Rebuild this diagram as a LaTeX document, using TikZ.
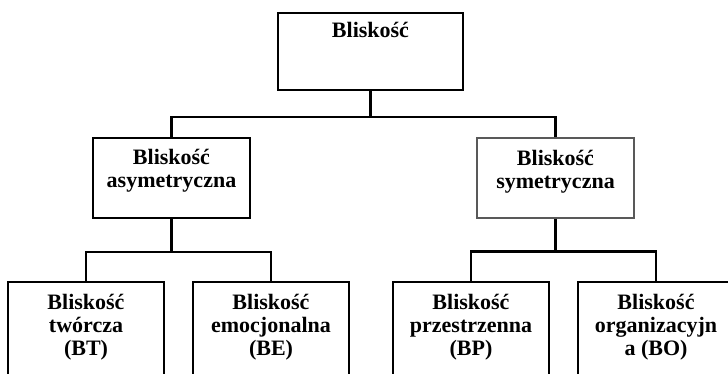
\documentclass[tikz,border=0pt]{standalone}
\usepackage{fontspec}
\setmainfont{Liberation Serif}
\usetikzlibrary{calc}

\tikzset{
  box/.style={draw, line width=2.4pt, minimum width=157pt, minimum height=80pt},
  thinbox/.style={draw=black!65, line width=1.2pt, minimum width=157pt, minimum height=80pt},
  lowbox/.style={box, minimum width=156pt, minimum height=118pt},
  txt/.style={anchor=north, inner sep=0pt, align=center,
    font=\fontsize{22pt}{23pt}\selectfont\bfseries},
  link/.style={line width=2.4pt}
}

\begin{document}
\begin{tikzpicture}[x=1pt,y=1pt]
  \useasboundingbox (0,0) rectangle (728,373);
  \clip (0,0) rectangle (728,373);

  \node
  [box, minimum width=185pt, minimum height=77pt,
   label={[txt, name=topTxt, yshift=-10.5pt]north:Bliskość}]
  (top) at (370.5,321.5) {};

  \node
  [box,
   label={[txt, name=asymTxt, yshift=-12.5pt]north:Bliskość\\asymetryczna}]
  (asym) at (171.5,195) {};

  \node
  [thinbox,
   label={[txt, name=symTxt, yshift=-12.5pt]north:Bliskość\\symetryczna}]
  (sym) at (555.5,195) {};

  \node
  [lowbox,
   label={[txt, name=btTxt, yshift=-13.5pt]north:Bliskość\\twórcza\\(BT)}]
  (BT) at (86,32) {};

  \node
  [lowbox,
   label={[txt, name=beTxt, yshift=-13.5pt]north:Bliskość\\emocjonalna\\(BE)}]
  (BE) at (271,32) {};

  \node
  [lowbox,
   label={[txt, name=bpTxt, yshift=-13.5pt]north:Bliskość\\przestrzenna\\(BP)}]
  (BP) at (471,32) {};

  \node
  [lowbox,
   label={[txt, name=boTxt, yshift=-13.5pt]north:Bliskość\\organizacyjn\\a (BO)}]
  (BO) at (656,32) {};

  % level 1
  \coordinate (j1) at ($(top.south) + (0,-25.5)$);
  \draw [link] (top.south) -- (j1);
  \draw [link] (j1) -| (asym.north);
  \draw [link] (j1) -| (sym.north);

  % level 2, left
  \coordinate (j2) at ($(asym.south) + (0,-33)$);
  \draw [link] (asym.south) -- (j2);
  \draw [link] (j2) -| (BT.north);
  \draw [link] (j2) -| (BE.north);

  % level 2, right
  \coordinate (j3) at ($(sym.south) + (0,-33)$);
  \draw [link] (sym.south) -- (j3);
  \draw [link] (j3) -| (BP.north);
  \draw [link] (j3) -| (BO.north);
\end{tikzpicture}
\end{document}
